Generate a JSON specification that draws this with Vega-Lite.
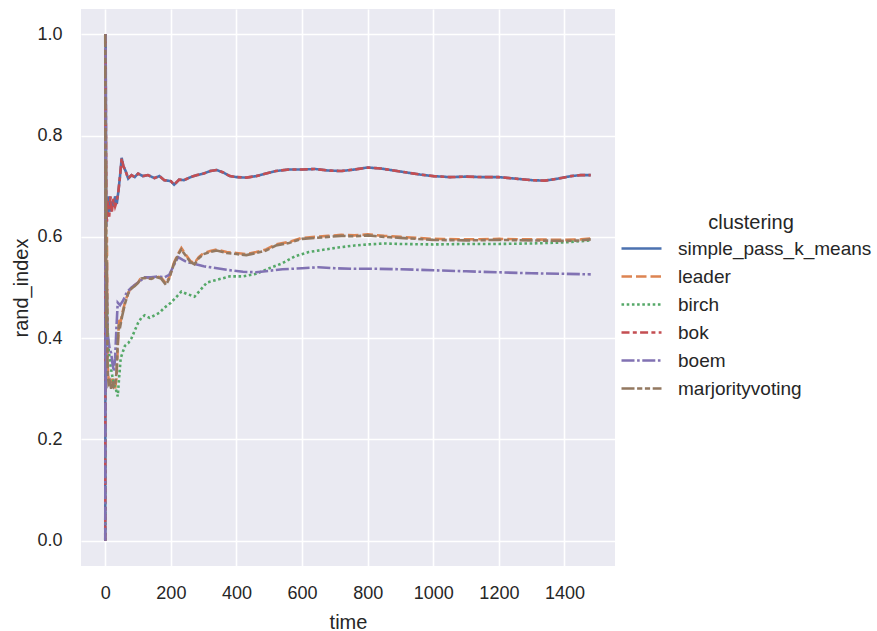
{
"$schema": "https://vega.github.io/schema/vega-lite/v6.json",
"autosize": {"type": "none"},
"padding": {"left": 81, "top": 9, "right": 262, "bottom": 65},
"width": 534,
"height": 557,
"background": "white",
"datasets": {
"d": [
{"clustering":"simple_pass_k_means","time":0,"rand_index":0.0},
{"clustering":"simple_pass_k_means","time":1,"rand_index":1.0},
{"clustering":"simple_pass_k_means","time":2,"rand_index":0.85},
{"clustering":"simple_pass_k_means","time":3,"rand_index":0.62},
{"clustering":"simple_pass_k_means","time":5,"rand_index":0.68},
{"clustering":"simple_pass_k_means","time":8,"rand_index":0.64},
{"clustering":"simple_pass_k_means","time":12,"rand_index":0.68},
{"clustering":"simple_pass_k_means","time":16,"rand_index":0.65},
{"clustering":"simple_pass_k_means","time":20,"rand_index":0.67},
{"clustering":"simple_pass_k_means","time":25,"rand_index":0.66},
{"clustering":"simple_pass_k_means","time":30,"rand_index":0.68},
{"clustering":"simple_pass_k_means","time":35,"rand_index":0.665},
{"clustering":"simple_pass_k_means","time":40,"rand_index":0.69},
{"clustering":"simple_pass_k_means","time":45,"rand_index":0.72},
{"clustering":"simple_pass_k_means","time":50,"rand_index":0.756},
{"clustering":"simple_pass_k_means","time":55,"rand_index":0.74},
{"clustering":"simple_pass_k_means","time":62,"rand_index":0.73},
{"clustering":"simple_pass_k_means","time":70,"rand_index":0.715},
{"clustering":"simple_pass_k_means","time":80,"rand_index":0.722},
{"clustering":"simple_pass_k_means","time":90,"rand_index":0.718},
{"clustering":"simple_pass_k_means","time":100,"rand_index":0.725},
{"clustering":"simple_pass_k_means","time":115,"rand_index":0.72},
{"clustering":"simple_pass_k_means","time":130,"rand_index":0.722},
{"clustering":"simple_pass_k_means","time":150,"rand_index":0.716},
{"clustering":"simple_pass_k_means","time":165,"rand_index":0.72},
{"clustering":"simple_pass_k_means","time":180,"rand_index":0.712},
{"clustering":"simple_pass_k_means","time":200,"rand_index":0.71},
{"clustering":"simple_pass_k_means","time":210,"rand_index":0.703},
{"clustering":"simple_pass_k_means","time":225,"rand_index":0.713},
{"clustering":"simple_pass_k_means","time":240,"rand_index":0.712},
{"clustering":"simple_pass_k_means","time":260,"rand_index":0.718},
{"clustering":"simple_pass_k_means","time":280,"rand_index":0.722},
{"clustering":"simple_pass_k_means","time":300,"rand_index":0.725},
{"clustering":"simple_pass_k_means","time":320,"rand_index":0.73},
{"clustering":"simple_pass_k_means","time":340,"rand_index":0.732},
{"clustering":"simple_pass_k_means","time":360,"rand_index":0.727},
{"clustering":"simple_pass_k_means","time":380,"rand_index":0.72},
{"clustering":"simple_pass_k_means","time":400,"rand_index":0.718},
{"clustering":"simple_pass_k_means","time":430,"rand_index":0.717},
{"clustering":"simple_pass_k_means","time":460,"rand_index":0.72},
{"clustering":"simple_pass_k_means","time":490,"rand_index":0.725},
{"clustering":"simple_pass_k_means","time":520,"rand_index":0.73},
{"clustering":"simple_pass_k_means","time":560,"rand_index":0.733},
{"clustering":"simple_pass_k_means","time":600,"rand_index":0.733},
{"clustering":"simple_pass_k_means","time":640,"rand_index":0.734},
{"clustering":"simple_pass_k_means","time":680,"rand_index":0.731},
{"clustering":"simple_pass_k_means","time":720,"rand_index":0.73},
{"clustering":"simple_pass_k_means","time":760,"rand_index":0.733},
{"clustering":"simple_pass_k_means","time":800,"rand_index":0.737},
{"clustering":"simple_pass_k_means","time":840,"rand_index":0.735},
{"clustering":"simple_pass_k_means","time":880,"rand_index":0.731},
{"clustering":"simple_pass_k_means","time":920,"rand_index":0.727},
{"clustering":"simple_pass_k_means","time":960,"rand_index":0.723},
{"clustering":"simple_pass_k_means","time":1000,"rand_index":0.72},
{"clustering":"simple_pass_k_means","time":1050,"rand_index":0.718},
{"clustering":"simple_pass_k_means","time":1100,"rand_index":0.719},
{"clustering":"simple_pass_k_means","time":1150,"rand_index":0.718},
{"clustering":"simple_pass_k_means","time":1200,"rand_index":0.718},
{"clustering":"simple_pass_k_means","time":1250,"rand_index":0.715},
{"clustering":"simple_pass_k_means","time":1300,"rand_index":0.712},
{"clustering":"simple_pass_k_means","time":1340,"rand_index":0.711},
{"clustering":"simple_pass_k_means","time":1380,"rand_index":0.715},
{"clustering":"simple_pass_k_means","time":1420,"rand_index":0.72},
{"clustering":"simple_pass_k_means","time":1450,"rand_index":0.722},
{"clustering":"simple_pass_k_means","time":1480,"rand_index":0.722},

{"clustering":"leader","time":0,"rand_index":1.0},
{"clustering":"leader","time":1,"rand_index":0.5},
{"clustering":"leader","time":2,"rand_index":0.8},
{"clustering":"leader","time":3,"rand_index":0.45},
{"clustering":"leader","time":5,"rand_index":0.6},
{"clustering":"leader","time":7,"rand_index":0.35},
{"clustering":"leader","time":10,"rand_index":0.32},
{"clustering":"leader","time":14,"rand_index":0.31},
{"clustering":"leader","time":18,"rand_index":0.305},
{"clustering":"leader","time":22,"rand_index":0.32},
{"clustering":"leader","time":26,"rand_index":0.31},
{"clustering":"leader","time":30,"rand_index":0.30},
{"clustering":"leader","time":34,"rand_index":0.32},
{"clustering":"leader","time":38,"rand_index":0.38},
{"clustering":"leader","time":42,"rand_index":0.44},
{"clustering":"leader","time":46,"rand_index":0.43},
{"clustering":"leader","time":52,"rand_index":0.45},
{"clustering":"leader","time":60,"rand_index":0.47},
{"clustering":"leader","time":70,"rand_index":0.49},
{"clustering":"leader","time":80,"rand_index":0.50},
{"clustering":"leader","time":90,"rand_index":0.505},
{"clustering":"leader","time":100,"rand_index":0.51},
{"clustering":"leader","time":110,"rand_index":0.52},
{"clustering":"leader","time":125,"rand_index":0.52},
{"clustering":"leader","time":140,"rand_index":0.518},
{"clustering":"leader","time":155,"rand_index":0.522},
{"clustering":"leader","time":170,"rand_index":0.52},
{"clustering":"leader","time":185,"rand_index":0.508},
{"clustering":"leader","time":195,"rand_index":0.52},
{"clustering":"leader","time":210,"rand_index":0.55},
{"clustering":"leader","time":225,"rand_index":0.57},
{"clustering":"leader","time":232,"rand_index":0.578},
{"clustering":"leader","time":245,"rand_index":0.565},
{"clustering":"leader","time":260,"rand_index":0.552},
{"clustering":"leader","time":272,"rand_index":0.548},
{"clustering":"leader","time":285,"rand_index":0.56},
{"clustering":"leader","time":300,"rand_index":0.568},
{"clustering":"leader","time":320,"rand_index":0.572},
{"clustering":"leader","time":340,"rand_index":0.575},
{"clustering":"leader","time":370,"rand_index":0.57},
{"clustering":"leader","time":400,"rand_index":0.568},
{"clustering":"leader","time":430,"rand_index":0.566},
{"clustering":"leader","time":460,"rand_index":0.57},
{"clustering":"leader","time":490,"rand_index":0.575},
{"clustering":"leader","time":520,"rand_index":0.585},
{"clustering":"leader","time":560,"rand_index":0.59},
{"clustering":"leader","time":600,"rand_index":0.598},
{"clustering":"leader","time":640,"rand_index":0.6},
{"clustering":"leader","time":680,"rand_index":0.602},
{"clustering":"leader","time":720,"rand_index":0.604},
{"clustering":"leader","time":760,"rand_index":0.603},
{"clustering":"leader","time":800,"rand_index":0.605},
{"clustering":"leader","time":850,"rand_index":0.602},
{"clustering":"leader","time":900,"rand_index":0.6},
{"clustering":"leader","time":950,"rand_index":0.598},
{"clustering":"leader","time":1000,"rand_index":0.596},
{"clustering":"leader","time":1100,"rand_index":0.595},
{"clustering":"leader","time":1200,"rand_index":0.596},
{"clustering":"leader","time":1300,"rand_index":0.595},
{"clustering":"leader","time":1400,"rand_index":0.594},
{"clustering":"leader","time":1450,"rand_index":0.595},
{"clustering":"leader","time":1480,"rand_index":0.597},

{"clustering":"birch","time":0,"rand_index":0.0},
{"clustering":"birch","time":1,"rand_index":0.78},
{"clustering":"birch","time":2,"rand_index":0.6},
{"clustering":"birch","time":4,"rand_index":0.5},
{"clustering":"birch","time":7,"rand_index":0.42},
{"clustering":"birch","time":10,"rand_index":0.38},
{"clustering":"birch","time":15,"rand_index":0.35},
{"clustering":"birch","time":20,"rand_index":0.33},
{"clustering":"birch","time":26,"rand_index":0.31},
{"clustering":"birch","time":32,"rand_index":0.30},
{"clustering":"birch","time":38,"rand_index":0.285},
{"clustering":"birch","time":42,"rand_index":0.32},
{"clustering":"birch","time":47,"rand_index":0.36},
{"clustering":"birch","time":52,"rand_index":0.37},
{"clustering":"birch","time":60,"rand_index":0.385},
{"clustering":"birch","time":70,"rand_index":0.39},
{"clustering":"birch","time":80,"rand_index":0.40},
{"clustering":"birch","time":90,"rand_index":0.415},
{"clustering":"birch","time":100,"rand_index":0.43},
{"clustering":"birch","time":110,"rand_index":0.44},
{"clustering":"birch","time":120,"rand_index":0.445},
{"clustering":"birch","time":135,"rand_index":0.44},
{"clustering":"birch","time":150,"rand_index":0.445},
{"clustering":"birch","time":165,"rand_index":0.45},
{"clustering":"birch","time":180,"rand_index":0.46},
{"clustering":"birch","time":200,"rand_index":0.47},
{"clustering":"birch","time":215,"rand_index":0.48},
{"clustering":"birch","time":232,"rand_index":0.492},
{"clustering":"birch","time":250,"rand_index":0.487},
{"clustering":"birch","time":272,"rand_index":0.482},
{"clustering":"birch","time":290,"rand_index":0.495},
{"clustering":"birch","time":310,"rand_index":0.51},
{"clustering":"birch","time":340,"rand_index":0.515},
{"clustering":"birch","time":380,"rand_index":0.522},
{"clustering":"birch","time":420,"rand_index":0.522},
{"clustering":"birch","time":460,"rand_index":0.527},
{"clustering":"birch","time":500,"rand_index":0.538},
{"clustering":"birch","time":540,"rand_index":0.548},
{"clustering":"birch","time":580,"rand_index":0.562},
{"clustering":"birch","time":620,"rand_index":0.57},
{"clustering":"birch","time":660,"rand_index":0.574},
{"clustering":"birch","time":710,"rand_index":0.579},
{"clustering":"birch","time":760,"rand_index":0.583},
{"clustering":"birch","time":800,"rand_index":0.585},
{"clustering":"birch","time":850,"rand_index":0.587},
{"clustering":"birch","time":900,"rand_index":0.586},
{"clustering":"birch","time":1000,"rand_index":0.585},
{"clustering":"birch","time":1100,"rand_index":0.586},
{"clustering":"birch","time":1200,"rand_index":0.586},
{"clustering":"birch","time":1300,"rand_index":0.587},
{"clustering":"birch","time":1400,"rand_index":0.589},
{"clustering":"birch","time":1480,"rand_index":0.593},

{"clustering":"bok","time":0,"rand_index":0.0},
{"clustering":"bok","time":1,"rand_index":1.0},
{"clustering":"bok","time":2,"rand_index":0.8},
{"clustering":"bok","time":3,"rand_index":0.65},
{"clustering":"bok","time":5,"rand_index":0.63},
{"clustering":"bok","time":8,"rand_index":0.67},
{"clustering":"bok","time":12,"rand_index":0.64},
{"clustering":"bok","time":16,"rand_index":0.68},
{"clustering":"bok","time":20,"rand_index":0.65},
{"clustering":"bok","time":25,"rand_index":0.675},
{"clustering":"bok","time":30,"rand_index":0.66},
{"clustering":"bok","time":35,"rand_index":0.67},
{"clustering":"bok","time":40,"rand_index":0.69},
{"clustering":"bok","time":45,"rand_index":0.72},
{"clustering":"bok","time":50,"rand_index":0.755},
{"clustering":"bok","time":55,"rand_index":0.74},
{"clustering":"bok","time":62,"rand_index":0.73},
{"clustering":"bok","time":70,"rand_index":0.715},
{"clustering":"bok","time":80,"rand_index":0.722},
{"clustering":"bok","time":90,"rand_index":0.718},
{"clustering":"bok","time":100,"rand_index":0.725},
{"clustering":"bok","time":115,"rand_index":0.72},
{"clustering":"bok","time":130,"rand_index":0.722},
{"clustering":"bok","time":150,"rand_index":0.716},
{"clustering":"bok","time":165,"rand_index":0.72},
{"clustering":"bok","time":180,"rand_index":0.712},
{"clustering":"bok","time":200,"rand_index":0.71},
{"clustering":"bok","time":210,"rand_index":0.703},
{"clustering":"bok","time":225,"rand_index":0.713},
{"clustering":"bok","time":240,"rand_index":0.712},
{"clustering":"bok","time":260,"rand_index":0.718},
{"clustering":"bok","time":280,"rand_index":0.722},
{"clustering":"bok","time":300,"rand_index":0.725},
{"clustering":"bok","time":320,"rand_index":0.73},
{"clustering":"bok","time":340,"rand_index":0.732},
{"clustering":"bok","time":360,"rand_index":0.727},
{"clustering":"bok","time":380,"rand_index":0.72},
{"clustering":"bok","time":400,"rand_index":0.718},
{"clustering":"bok","time":430,"rand_index":0.717},
{"clustering":"bok","time":460,"rand_index":0.72},
{"clustering":"bok","time":490,"rand_index":0.725},
{"clustering":"bok","time":520,"rand_index":0.73},
{"clustering":"bok","time":560,"rand_index":0.733},
{"clustering":"bok","time":600,"rand_index":0.733},
{"clustering":"bok","time":640,"rand_index":0.734},
{"clustering":"bok","time":680,"rand_index":0.731},
{"clustering":"bok","time":720,"rand_index":0.73},
{"clustering":"bok","time":760,"rand_index":0.733},
{"clustering":"bok","time":800,"rand_index":0.737},
{"clustering":"bok","time":840,"rand_index":0.735},
{"clustering":"bok","time":880,"rand_index":0.731},
{"clustering":"bok","time":920,"rand_index":0.727},
{"clustering":"bok","time":960,"rand_index":0.723},
{"clustering":"bok","time":1000,"rand_index":0.72},
{"clustering":"bok","time":1050,"rand_index":0.718},
{"clustering":"bok","time":1100,"rand_index":0.719},
{"clustering":"bok","time":1150,"rand_index":0.718},
{"clustering":"bok","time":1200,"rand_index":0.718},
{"clustering":"bok","time":1250,"rand_index":0.715},
{"clustering":"bok","time":1300,"rand_index":0.712},
{"clustering":"bok","time":1340,"rand_index":0.711},
{"clustering":"bok","time":1380,"rand_index":0.715},
{"clustering":"bok","time":1420,"rand_index":0.72},
{"clustering":"bok","time":1450,"rand_index":0.722},
{"clustering":"bok","time":1480,"rand_index":0.722},

{"clustering":"boem","time":0,"rand_index":0.0},
{"clustering":"boem","time":1,"rand_index":1.0},
{"clustering":"boem","time":2,"rand_index":0.3},
{"clustering":"boem","time":4,"rand_index":0.55},
{"clustering":"boem","time":6,"rand_index":0.42},
{"clustering":"boem","time":9,"rand_index":0.4},
{"clustering":"boem","time":13,"rand_index":0.38},
{"clustering":"boem","time":18,"rand_index":0.37},
{"clustering":"boem","time":22,"rand_index":0.35},
{"clustering":"boem","time":26,"rand_index":0.335},
{"clustering":"boem","time":30,"rand_index":0.36},
{"clustering":"boem","time":34,"rand_index":0.42},
{"clustering":"boem","time":38,"rand_index":0.47},
{"clustering":"boem","time":45,"rand_index":0.465},
{"clustering":"boem","time":55,"rand_index":0.475},
{"clustering":"boem","time":65,"rand_index":0.49},
{"clustering":"boem","time":80,"rand_index":0.5},
{"clustering":"boem","time":100,"rand_index":0.51},
{"clustering":"boem","time":120,"rand_index":0.52},
{"clustering":"boem","time":140,"rand_index":0.52},
{"clustering":"boem","time":160,"rand_index":0.522},
{"clustering":"boem","time":180,"rand_index":0.52},
{"clustering":"boem","time":195,"rand_index":0.525},
{"clustering":"boem","time":210,"rand_index":0.545},
{"clustering":"boem","time":222,"rand_index":0.56},
{"clustering":"boem","time":235,"rand_index":0.555},
{"clustering":"boem","time":250,"rand_index":0.55},
{"clustering":"boem","time":270,"rand_index":0.547},
{"clustering":"boem","time":300,"rand_index":0.542},
{"clustering":"boem","time":330,"rand_index":0.539},
{"clustering":"boem","time":370,"rand_index":0.535},
{"clustering":"boem","time":420,"rand_index":0.531},
{"clustering":"boem","time":460,"rand_index":0.53},
{"clustering":"boem","time":500,"rand_index":0.533},
{"clustering":"boem","time":540,"rand_index":0.536},
{"clustering":"boem","time":600,"rand_index":0.538},
{"clustering":"boem","time":650,"rand_index":0.54},
{"clustering":"boem","time":700,"rand_index":0.538},
{"clustering":"boem","time":760,"rand_index":0.537},
{"clustering":"boem","time":820,"rand_index":0.537},
{"clustering":"boem","time":900,"rand_index":0.536},
{"clustering":"boem","time":1000,"rand_index":0.534},
{"clustering":"boem","time":1100,"rand_index":0.532},
{"clustering":"boem","time":1200,"rand_index":0.53},
{"clustering":"boem","time":1300,"rand_index":0.528},
{"clustering":"boem","time":1400,"rand_index":0.527},
{"clustering":"boem","time":1480,"rand_index":0.526},

{"clustering":"marjorityvoting","time":0,"rand_index":1.0},
{"clustering":"marjorityvoting","time":1,"rand_index":0.55},
{"clustering":"marjorityvoting","time":2,"rand_index":0.75},
{"clustering":"marjorityvoting","time":3,"rand_index":0.42},
{"clustering":"marjorityvoting","time":5,"rand_index":0.55},
{"clustering":"marjorityvoting","time":7,"rand_index":0.34},
{"clustering":"marjorityvoting","time":10,"rand_index":0.31},
{"clustering":"marjorityvoting","time":14,"rand_index":0.315},
{"clustering":"marjorityvoting","time":18,"rand_index":0.30},
{"clustering":"marjorityvoting","time":22,"rand_index":0.315},
{"clustering":"marjorityvoting","time":26,"rand_index":0.305},
{"clustering":"marjorityvoting","time":30,"rand_index":0.31},
{"clustering":"marjorityvoting","time":34,"rand_index":0.33},
{"clustering":"marjorityvoting","time":38,"rand_index":0.39},
{"clustering":"marjorityvoting","time":42,"rand_index":0.43},
{"clustering":"marjorityvoting","time":46,"rand_index":0.425},
{"clustering":"marjorityvoting","time":52,"rand_index":0.445},
{"clustering":"marjorityvoting","time":60,"rand_index":0.468},
{"clustering":"marjorityvoting","time":70,"rand_index":0.488},
{"clustering":"marjorityvoting","time":80,"rand_index":0.498},
{"clustering":"marjorityvoting","time":90,"rand_index":0.503},
{"clustering":"marjorityvoting","time":100,"rand_index":0.509},
{"clustering":"marjorityvoting","time":110,"rand_index":0.518},
{"clustering":"marjorityvoting","time":125,"rand_index":0.519},
{"clustering":"marjorityvoting","time":140,"rand_index":0.517},
{"clustering":"marjorityvoting","time":155,"rand_index":0.521},
{"clustering":"marjorityvoting","time":170,"rand_index":0.518},
{"clustering":"marjorityvoting","time":185,"rand_index":0.505},
{"clustering":"marjorityvoting","time":195,"rand_index":0.518},
{"clustering":"marjorityvoting","time":210,"rand_index":0.548},
{"clustering":"marjorityvoting","time":225,"rand_index":0.568},
{"clustering":"marjorityvoting","time":232,"rand_index":0.575},
{"clustering":"marjorityvoting","time":245,"rand_index":0.563},
{"clustering":"marjorityvoting","time":260,"rand_index":0.55},
{"clustering":"marjorityvoting","time":272,"rand_index":0.546},
{"clustering":"marjorityvoting","time":285,"rand_index":0.558},
{"clustering":"marjorityvoting","time":300,"rand_index":0.566},
{"clustering":"marjorityvoting","time":320,"rand_index":0.57},
{"clustering":"marjorityvoting","time":340,"rand_index":0.573},
{"clustering":"marjorityvoting","time":370,"rand_index":0.568},
{"clustering":"marjorityvoting","time":400,"rand_index":0.566},
{"clustering":"marjorityvoting","time":430,"rand_index":0.564},
{"clustering":"marjorityvoting","time":460,"rand_index":0.568},
{"clustering":"marjorityvoting","time":490,"rand_index":0.573},
{"clustering":"marjorityvoting","time":520,"rand_index":0.583},
{"clustering":"marjorityvoting","time":560,"rand_index":0.588},
{"clustering":"marjorityvoting","time":600,"rand_index":0.596},
{"clustering":"marjorityvoting","time":640,"rand_index":0.598},
{"clustering":"marjorityvoting","time":680,"rand_index":0.6},
{"clustering":"marjorityvoting","time":720,"rand_index":0.602},
{"clustering":"marjorityvoting","time":760,"rand_index":0.601},
{"clustering":"marjorityvoting","time":800,"rand_index":0.603},
{"clustering":"marjorityvoting","time":850,"rand_index":0.6},
{"clustering":"marjorityvoting","time":900,"rand_index":0.598},
{"clustering":"marjorityvoting","time":950,"rand_index":0.596},
{"clustering":"marjorityvoting","time":1000,"rand_index":0.594},
{"clustering":"marjorityvoting","time":1100,"rand_index":0.593},
{"clustering":"marjorityvoting","time":1200,"rand_index":0.594},
{"clustering":"marjorityvoting","time":1300,"rand_index":0.593},
{"clustering":"marjorityvoting","time":1400,"rand_index":0.592},
{"clustering":"marjorityvoting","time":1450,"rand_index":0.593},
{"clustering":"marjorityvoting","time":1480,"rand_index":0.595}
]
},
"data": {"name": "d"},
"mark": {"type": "line", "strokeWidth": 2.6, "clip": true},
"encoding": {
"x": {"field": "time", "type": "quantitative",
 "scale": {"domain": [-74, 1554], "nice": false, "zero": false},
 "axis": {"values": [0,200,400,600,800,1000,1200,1400], "format": "d", "title": "time", "labelPadding": 18, "titlePadding": 10}},
"y": {"field": "rand_index", "type": "quantitative",
 "scale": {"domain": [-0.05, 1.05], "nice": false, "zero": false},
 "axis": {"values": [0,0.2,0.4,0.6,0.8,1.0], "format": ".1f", "title": "rand_index", "labelPadding": 19, "titlePadding": 5}},
"color": {"field": "clustering", "type": "nominal",
 "scale": {"domain": ["simple_pass_k_means","leader","birch","bok","boem","marjorityvoting"],
  "range": ["#4c72b0","#dd8452","#55a868","#c44e52","#8172b3","#937860"]},
 "legend": {"title": "clustering", "orient": "none", "legendX": 549, "legendY": 204}},
"strokeDash": {"field": "clustering", "type": "nominal",
 "scale": {"domain": ["simple_pass_k_means","leader","birch","bok","boem","marjorityvoting"],
  "range": [[1,0],[10.5,4],[2.6,2.6],[8,3.3,4,3.3],[13,2.6,2.6,2.6],[13,2.6,5.2,2.6,5.2,2.6]]},
 "legend": {"title": "clustering", "orient": "none", "legendX": 549, "legendY": 204}}
},
"config": {
"font": "Liberation Sans",
"view": {"fill": "#eaeaf2", "stroke": null},
"axis": {
 "grid": true, "gridColor": "#ffffff", "gridWidth": 1.6, "gridOpacity": 1,
 "domain": false, "ticks": false,
 "labelFont": "Liberation Sans", "labelFontSize": 18, "labelColor": "#262626",
 "titleFont": "Liberation Sans", "titleFontSize": 20, "titleFontWeight": "normal", "titleColor": "#262626"
},
"legend": {
 "padding": 0,
 "titleFont": "Liberation Sans", "titleFontSize": 20, "titleFontWeight": "normal", "titleColor": "#262626",
 "titleAnchor": "middle", "titlePadding": 4,
 "labelFont": "Liberation Sans", "labelFontSize": 19, "labelColor": "#262626", "labelOffset": 25, "labelLimit": 0,
 "symbolType": "M-2,0H2", "symbolSize": 400, "symbolStrokeWidth": 2.6, "rowPadding": 6
}
}
}
